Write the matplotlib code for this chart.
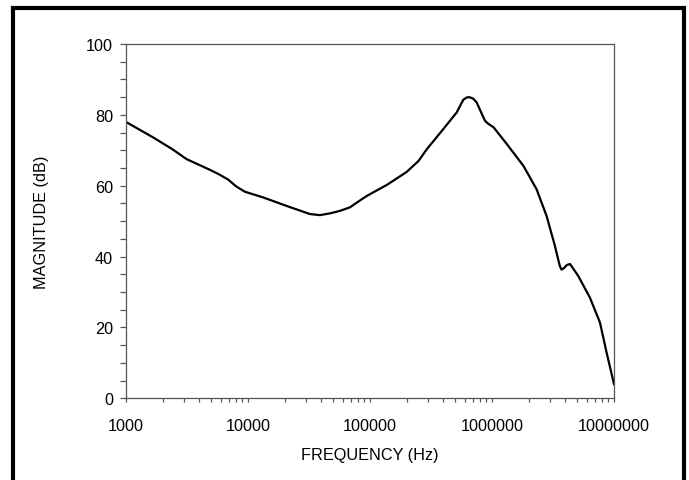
import matplotlib
matplotlib.use("Agg")
import matplotlib.pyplot as plt
from matplotlib.patches import Rectangle
from matplotlib.ticker import LogLocator, FixedLocator, NullFormatter

plt.rcParams['font.family'] = ['Liberation Sans', 'DejaVu Sans']

# frequency (Hz) and magnitude (dB)
freq = [1000, 1675, 2400, 3140, 4730, 5800, 6900, 8000, 9440, 13300, 20700,
        32200, 38900, 47000, 56700, 68500, 80000, 93900, 137000, 200000,
        250000, 292000, 399000, 514000, 550000, 583000, 620000, 652000,
        700000, 749000, 800000, 877000, 930000, 1030000, 1320000, 1810000,
        2320000, 2800000, 3280000, 3430000, 3600000, 3720000, 3900000,
        4100000, 4360000, 5100000, 6350000, 7670000, 8700000, 10000000]
mag = [78.0, 73.6, 70.3, 67.5, 64.7, 63.2, 61.7, 59.8, 58.3, 56.7, 54.3,
       52.0, 51.7, 52.2, 52.9, 53.9, 55.5, 57.1, 60.2, 63.9,
       67.0, 70.3, 76.0, 80.7, 82.7, 84.3, 84.9, 85.0,
       84.6, 83.5, 81.3, 78.3, 77.5, 76.5, 71.8, 65.6,
       59.0, 51.5, 43.0, 40.2, 37.3, 36.3, 36.8,
       37.6, 37.9, 34.5, 28.4, 21.4, 12.9, 4.0]

x_ticks = [1000, 10000, 100000, 1000000, 10000000]
x_labels = ['1000', '10000', '100000', '1000000', '10000000']
y_ticks = [0, 20, 40, 60, 80, 100]

fig = plt.figure(figsize=(6.89, 4.81), dpi=100)
ax = fig.add_axes([126 / 689, 1 - 399.3 / 481, (614 - 126) / 689, (399.3 - 45) / 481])

ax.plot(freq, mag, color='black', lw=1.6, solid_joinstyle='round')

ax.set_xscale('log')
ax.set_xlim(1000, 10000000)
ax.set_ylim(0, 100)
ax.set_xticks(x_ticks)
ax.set_xticklabels(x_labels)
ax.xaxis.set_minor_locator(LogLocator(base=10, subs=range(2, 10)))
ax.xaxis.set_minor_formatter(NullFormatter())
ax.set_yticks(y_ticks)
ax.yaxis.set_minor_locator(FixedLocator([v for v in range(0, 101, 5) if v % 20]))

grey = '#555555'
for sp in ax.spines.values():
    sp.set_color(grey)
    sp.set_linewidth(0.9)
ax.tick_params(axis='both', which='both', direction='out', color=grey, width=0.9)
ax.tick_params(axis='x', which='both', length=3.2, pad=11, labelsize=11.7)
ax.tick_params(axis='y', which='both', length=4.2, pad=5, labelsize=11.7)

ax.set_xlabel('FREQUENCY (Hz)', fontsize=11.7, labelpad=10)
ax.set_ylabel('MAGNITUDE (dB)', fontsize=11.7, labelpad=27)

# outer frame (bottom edge falls outside the picture)
fig.patches.append(Rectangle((13 / 689, -0.1), (684 - 13) / 689, 1.1 - 9 / 481,
                             transform=fig.transFigure, fill=False,
                             edgecolor='black', lw=3, clip_on=False))

fig.savefig('out.png', dpi=100)
